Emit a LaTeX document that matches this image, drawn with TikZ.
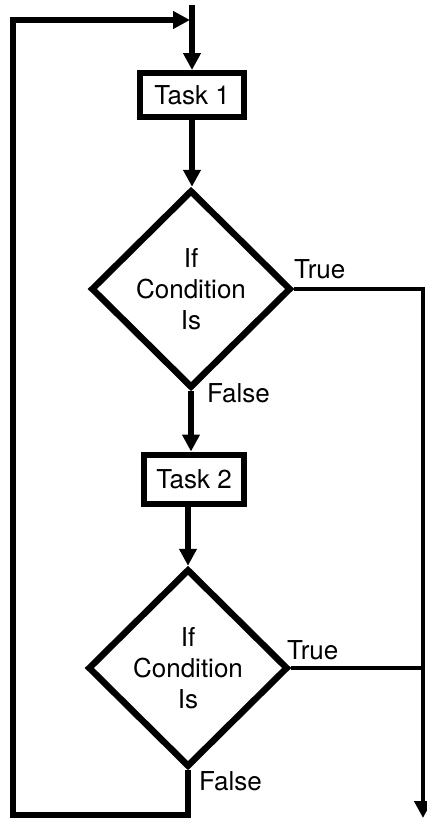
\documentclass[tikz,border=0pt]{standalone}
\usepackage{fontspec}
\setmainfont{TeX Gyre Heros}
\usetikzlibrary{shapes.geometric,arrows.meta}
\begin{document}
\begin{tikzpicture}[x=1pt,y=-1pt,
  txt/.style={font=\fontsize{26}{31}\selectfont},
  main/.style={line width=6pt},
  side/.style={line width=4.4pt},
  arr/.style={-{Triangle[length=17pt,width=17pt]}},
  taskbox/.style={draw,line width=6pt,minimum width=104pt,minimum height=44pt,inner sep=0pt,txt},
  decision/.style={diamond,draw,line width=6.5pt,minimum width=200pt,minimum height=198pt,inner sep=0pt,align=center,txt},
  lbl/.style={anchor=base west,inner sep=0pt,txt}]
\useasboundingbox (0,0) rectangle (426,819);
\node[taskbox] (t1) at (192,95) {Task 1};
\node[decision] (d1) at (191,289) {If\\Condition\\Is};
\node[taskbox,minimum width=100pt,minimum height=49pt] (t2) at (194,479) {Task 2};
\node[decision] (d2) at (188,668) {If\\Condition\\Is};
\coordinate (top) at (192,5);
\coordinate (join) at (190,20);
\coordinate (lt) at (13,20);
\coordinate (lb) at (13,815);
\coordinate (rt) at (423,289);
\coordinate (rend) at (423,818);
\draw[main,arr] (top) -- (t1);
\draw[main,arr] (t1.south) -- (t1.south |- d1.north);
\draw[main,arr] (d1.south) -- (d1.south |- t2.north);
\draw[main,arr] (d2.north |- t2.south) -- (d2.north);
\draw[main,arr] (d2.south) -- (d2.south |- lb) -- (lb) -- (lt) -- (join);
\draw[side,arr] (d1.east) -- (rt) -- (rend);
\draw[side] (d2.east) -- (d2.east -| rt);
\node[lbl] (tr1) at (294,278) {True};
\node[lbl] (f1) at (207,402) {False};
\node[lbl] (tr2) at (287,659) {True};
\node[lbl] (f2) at (199,790) {False};
\end{tikzpicture}
\end{document}
